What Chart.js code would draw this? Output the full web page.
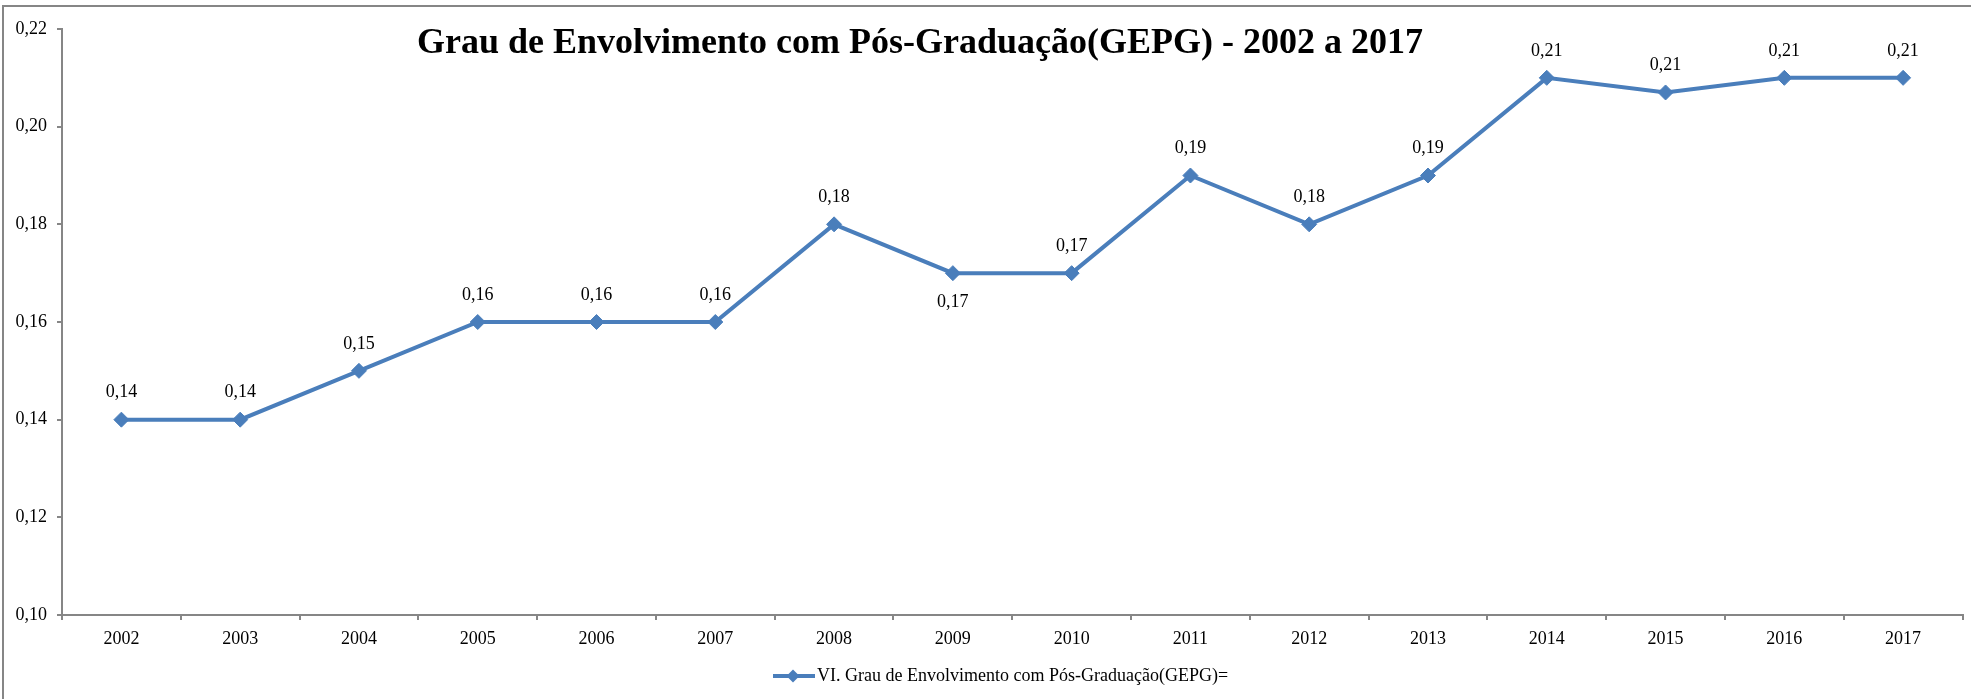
<!DOCTYPE html>
<html>
<head>
<meta charset="utf-8">
<script src="https://cdn.jsdelivr.net/npm/chart.js@4/dist/chart.umd.min.js"></script>
<style>
  body { margin: 0; background: #fff; }
  #wrap { width: 1971px; height: 699px; }
</style>
</head>
<body>
<div id="wrap"><canvas id="grafico" width="1971" height="699"></canvas></div>
<script>
const titulo = 'Grau de Envolvimento com Pós-Graduação(GEPG) - 2002 a 2017';
const serieNome = 'VI. Grau de Envolvimento com Pós-Graduação(GEPG)=';
const anos = ['2002', '2003', '2004', '2005', '2006', '2007', '2008', '2009',
  '2010', '2011', '2012', '2013', '2014', '2015', '2016', '2017'];
const gepg = [0.14, 0.14, 0.15, 0.16, 0.16, 0.16, 0.18, 0.17,
  0.17, 0.19, 0.18, 0.19, 0.21, 0.207, 0.21, 0.21];
// onde fica o rótulo de cada ponto
const rotuloPos = ['top', 'top', 'top', 'top', 'top', 'top', 'top', 'bottom',
  'top', 'top', 'top', 'top', 'top', 'top', 'top', 'top'];

const azul = '#4A7EBB';
const cinza = '#868686';
const fonte = '"Liberation Serif", "Times New Roman", serif';

const virgula = v => v.toFixed(2).replace('.', ',');

// moldura, título, rótulos e legenda
const extras = {
  id: 'extras',
  beforeDraw(chart) {
    const c = chart.ctx;
    c.save();
    c.strokeStyle = cinza;
    c.lineWidth = 2;
    c.strokeRect(3, 6, 2100, 900);
    c.restore();
  },
  afterDatasetsDraw(chart) {
    const c = chart.ctx;
    const meta = chart.getDatasetMeta(0);
    c.save();
    c.fillStyle = '#000';
    c.font = '18px ' + fonte;
    c.textAlign = 'center';
    c.textBaseline = 'middle';
    meta.data.forEach((pt, i) => {
      const dy = rotuloPos[i] === 'bottom' ? 29 : -27;
      c.fillText(virgula(gepg[i]), pt.x, pt.y + dy);
    });

    c.font = 'bold 36px ' + fonte;
    c.textBaseline = 'alphabetic';
    c.fillText(titulo, 920, 53);

    // legenda
    const ly = 676, lx = 773;
    c.textBaseline = 'middle';
    c.strokeStyle = azul;
    c.lineWidth = 4;
    c.beginPath();
    c.moveTo(lx, ly);
    c.lineTo(lx + 42, ly);
    c.stroke();
    c.fillStyle = azul;
    c.beginPath();
    c.moveTo(lx + 20 - 6.5, ly);
    c.lineTo(lx + 20, ly - 6.5);
    c.lineTo(lx + 20 + 6.5, ly);
    c.lineTo(lx + 20, ly + 6.5);
    c.closePath();
    c.fill();
    c.fillStyle = '#000';
    c.font = '18px ' + fonte;
    c.textAlign = 'left';
    c.fillText(serieNome, lx + 44, ly);
    c.restore();
  }
};

new Chart(document.getElementById('grafico').getContext('2d'), {
  type: 'line',
  data: {
    labels: anos,
    datasets: [{
      label: serieNome,
      data: gepg,
      borderColor: azul,
      backgroundColor: azul,
      borderWidth: 4,
      pointStyle: 'rectRot',
      pointRadius: 7.5,
      pointBorderWidth: 1,
      pointBorderColor: azul,
      pointBackgroundColor: azul,
      tension: 0
    }]
  },
  options: {
    responsive: false,
    animation: false,
    layout: { padding: { top: 29, right: 1, bottom: 44, left: 0 } },
    plugins: {
      legend: { display: false },
      title: { display: false },
      tooltip: { enabled: false }
    },
    scales: {
      x: {
        offset: true,
        afterFit(scale) { scale.height = 40; },
        grid: {
          offset: true,
          drawOnChartArea: false,
          drawTicks: true,
          tickLength: 5,
          color: cinza,
          lineWidth: 2
        },
        border: { color: cinza, width: 2 },
        ticks: {
          color: '#000',
          padding: 8,
          maxRotation: 0,
          font: { family: fonte, size: 18 }
        }
      },
      y: {
        min: 0.10,
        max: 0.22,
        afterFit(scale) { scale.width = 62; },
        grid: {
          drawOnChartArea: false,
          drawTicks: true,
          tickLength: 5,
          color: cinza,
          lineWidth: 2
        },
        border: { color: cinza, width: 2 },
        ticks: {
          stepSize: 0.02,
          color: '#000',
          padding: 10,
          font: { family: fonte, size: 18 },
          callback: v => virgula(v)
        }
      }
    }
  },
  plugins: [extras]
});
</script>
</body>
</html>
